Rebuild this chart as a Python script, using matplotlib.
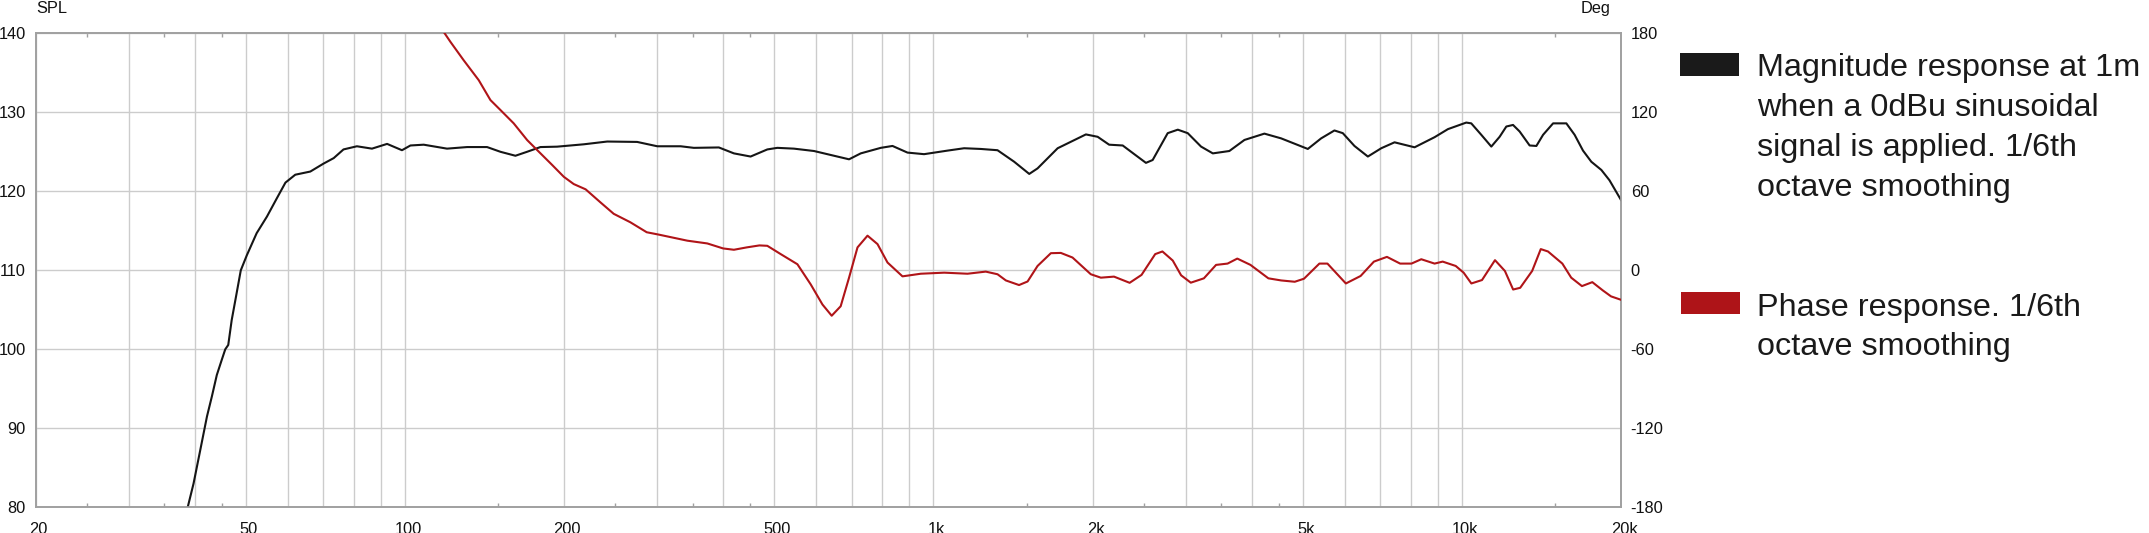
import numpy as np
import matplotlib
matplotlib.use("Agg")
import matplotlib.pyplot as plt
from matplotlib.ticker import FixedLocator, FixedFormatter, NullFormatter
from matplotlib.patches import Rectangle
import matplotlib.transforms as mtransforms

plt.rcParams['font.family'] = ['Liberation Sans', 'DejaVu Sans']

# Magnitude response (Hz, dB SPL)
mag_freq = [38.3, 38.8, 39.8, 41.0, 42.2, 43.1, 44.05, 45.0, 45.7, 46.3, 47.0, 47.9, 48.9,
            50.2, 52.4, 54.8, 57.2, 59.4, 62.0, 66.2, 70.1, 73.3, 76.5, 81.1, 86.6,
            92.5, 98.7, 102.4, 108.5, 120.1, 131.1, 143.0, 151.6, 161.8, 170.2, 180.4,
            194.0, 218, 241.4, 275, 300.2, 332.4, 352, 392.6, 419.2, 450.8, 484.9,
            506.5, 544.5, 594.3, 639, 692.3, 728.5, 794.9, 836.6, 893, 960, 1063,
            1143, 1229, 1322, 1421, 1518, 1574, 1718, 1943, 2045, 2150, 2281, 2399,
            2524, 2599, 2775, 2900, 3028, 3209, 3378, 3630, 3877, 4229, 4549, 5110,
            5415, 5738, 5951, 6261, 6638, 7036, 7456, 8137, 8878, 9409, 10191, 10416,
            10881, 11366, 11786, 12135, 12495, 12860, 13432, 13832, 14242, 14877,
            15762, 16341, 16949, 17574, 18360, 19020, 20000]
mag_db = [78.5, 80.0, 83.0, 87.3, 91.5, 94.0, 96.75, 98.65, 100.0, 100.55, 103.7, 106.7, 110.0,
          111.9, 114.7, 116.8, 119.1, 121.1, 122.1, 122.5, 123.5, 124.2, 125.3, 125.7, 125.4,
          126.0, 125.2, 125.8, 125.9, 125.4, 125.6, 125.6, 125.0, 124.5, 125.0, 125.6,
          125.65, 125.95, 126.3, 126.25, 125.7, 125.7, 125.5, 125.55, 124.8, 124.4, 125.3,
          125.5, 125.4, 125.1, 124.6, 124.05, 124.8, 125.5, 125.74, 124.9, 124.7, 125.15,
          125.45, 125.36, 125.2, 123.75, 122.2, 122.9, 125.45, 127.2, 126.9, 125.9, 125.8, 124.7,
          123.6, 123.96, 127.36, 127.8, 127.36, 125.66, 124.8, 125.1, 126.5, 127.3, 126.7, 125.36,
          126.7, 127.7, 127.36, 125.74, 124.4, 125.45, 126.2, 125.57, 126.85, 127.87, 128.7, 128.6,
          127.15, 125.66, 126.9, 128.2, 128.4, 127.57, 125.8, 125.74, 127.15, 128.6,
          128.6, 127.15, 125.15, 123.74, 122.7, 121.4, 118.9]

# Phase response (Hz, degrees)
phase_freq = [115, 118.4, 121.9, 129.1, 137.9, 145.1, 151.6, 160.6, 170.3, 177.9, 190,
              199.8, 208.6, 219.7, 234.5, 248.3, 266.9, 286.7, 302.2, 342.2, 373.3, 400,
              419.2, 443.3, 468.5, 484.9, 514, 552.8, 585.8, 616.6, 641.9, 667.5, 692.3,
              718.3, 750.3, 783.7, 818.6, 873.8, 946.3, 1048, 1160, 1256, 1322, 1371,
              1452, 1507, 1574, 1668, 1742, 1833, 1985, 2074, 2196, 2351, 2476, 2628,
              2712, 2837, 2942, 3069, 3249, 3426, 3602, 3758, 3980, 4303, 4549, 4827,
              5025, 5374, 5566, 6031, 6432, 6815, 7213, 7640, 8027, 8377, 8877, 9196,
              9733, 10075, 10420, 10915, 11550, 12060, 12500, 12890, 13580, 14100,
              14550, 15490, 16100, 16870, 17650, 18480, 19150, 20000]
phase_deg = [188, 181, 173.5, 159.6, 144.4, 129.3, 121.7, 111.6, 98.9, 91.3, 79.9,
             71.0, 65.5, 61.5, 51.5, 42.9, 36.5, 28.9, 27.1, 22.5, 20.4, 16.6,
             15.6, 17.4, 18.9, 18.6, 12.3, 4.6, -10.7, -26.0, -34.5, -27.3, -5.6,
             17.4, 26.3, 19.9, 5.9, -4.6, -2.6, -1.8, -2.6, -1.0, -3.0, -7.7,
             -11.2, -8.5, 3.3, 13.0, 13.2, 9.7, -3.0, -5.6, -4.8, -9.5, -3.5, 12.3,
             14.3, 7.4, -3.8, -9.4, -6.1, 4.1, 5.1, 8.9, 4.1, -6.1, -7.7, -8.7,
             -6.4, 5.1, 5.1, -10.0, -4.3, 6.6, 10.2, 5.1, 5.1, 8.4, 5.1, 6.6,
             3.3, -1.8, -10.0, -7.4, 7.7, -0.5, -14.6, -13.3, -0.5, 16.1,
             14.3, 5.1, -5.6, -12.0, -9.0, -15.3, -19.8, -22.4]

# axis ticks
grid_freqs = [20, 30, 40, 50, 60, 70, 80, 90, 100, 200, 300, 400, 500, 600, 700, 800, 900,
              1000, 2000, 3000, 4000, 5000, 6000, 7000, 8000, 9000, 10000, 20000]
label_map = {20: '20', 50: '50', 100: '100', 200: '200', 500: '500', 1000: '1k',
             2000: '2k', 5000: '5k', 10000: '10k', 20000: '20k'}
minor_freqs = [25, 35, 45, 150, 250, 350, 450, 1500, 2500, 3500, 4500, 15000]
spl_ticks = [80, 90, 100, 110, 120, 130, 140]
deg_ticks = [-180, -120, -60, 0, 60, 120, 180]

legend_mag = ["Magnitude response at 1m", "when a 0dBu sinusoidal",
              "signal is applied. 1/6th", "octave smoothing"]
legend_phase = ["Phase response. 1/6th", "octave smoothing"]

W, H = 2149, 533
fig = plt.figure(figsize=(W / 100, H / 100), dpi=100)

# Axes in pixel coordinates
x0, x1, y0, y1 = 35.6, 1621, 33.3, 507.3
ax = fig.add_axes([x0 / W, 1 - y1 / H, (x1 - x0) / W, (y1 - y0) / H])
ax2 = ax.twinx()

mag_col = '#151515'
ph_col = '#b01418'
frame_col = '#a0a0a0'
grid_col = '#cccccc'
fs = 11.8

ax.plot(mag_freq, mag_db, color=mag_col, lw=1.5, zorder=3)
ax2.plot(phase_freq, phase_deg, color=ph_col, lw=1.5, zorder=3)

ax.set_xscale('log')
ax.set_xlim(20, 20000)
ax.set_ylim(80, 140)
ax2.set_ylim(-180, 180)

ax.xaxis.set_major_locator(FixedLocator(grid_freqs))
ax.xaxis.set_major_formatter(FixedFormatter([label_map.get(f, '') for f in grid_freqs]))
ax.xaxis.set_minor_locator(FixedLocator(minor_freqs))
ax.xaxis.set_minor_formatter(NullFormatter())
ax.set_yticks(spl_ticks)
ax2.set_yticks(deg_ticks)
ax2.set_yticklabels([str(d) for d in deg_ticks])

ax.grid(True, which='major', color=grid_col, lw=1.0, zorder=0)
ax.set_axisbelow(True)

ax.tick_params(axis='x', which='major', length=0, pad=10.5, labelsize=fs, colors='#111111')
ax.tick_params(axis='x', which='minor', direction='in', length=3, width=1,
               color=frame_col, top=True, bottom=True)
ax.tick_params(axis='y', which='major', length=0, pad=7, labelsize=fs, colors='#111111')
ax2.tick_params(axis='y', which='major', length=0, pad=7, labelsize=fs, colors='#111111')

for a in (ax, ax2):
    for s in a.spines.values():
        s.set_color(frame_col)
        s.set_linewidth(1.2)

# nudge x labels slightly right like the original
offset = mtransforms.ScaledTranslation(3 / 100, 0, fig.dpi_scale_trans)
for lbl in ax.get_xticklabels():
    lbl.set_transform(lbl.get_transform() + offset)

fig.text(36 / W, 1 - 12.7 / H, 'SPL', fontsize=fs, va='baseline', ha='left', color='#111111')
fig.text(1610 / W, 1 - 12.7 / H, 'Deg', fontsize=fs, va='baseline', ha='right', color='#111111')

# legend
fig.add_artist(Rectangle((1680 / W, 1 - 76 / H), 59 / W, 23 / H,
                         transform=fig.transFigure, color='#1a1a1a', lw=0))
fig.add_artist(Rectangle((1681 / W, 1 - 314 / H), 59 / W, 22 / H,
                         transform=fig.transFigure, color='#ae1418', lw=0))
leg_fs = 23.3
for i, line in enumerate(legend_mag):
    fig.text(1757 / W, 1 - (75.7 + 40 * i) / H, line, fontsize=leg_fs,
             va='baseline', ha='left', color='#1a1a1a')
for i, line in enumerate(legend_phase):
    fig.text(1757 / W, 1 - (316 + 39.5 * i) / H, line, fontsize=leg_fs,
             va='baseline', ha='left', color='#1a1a1a')

fig.savefig('out.png', dpi=100, facecolor='white')
